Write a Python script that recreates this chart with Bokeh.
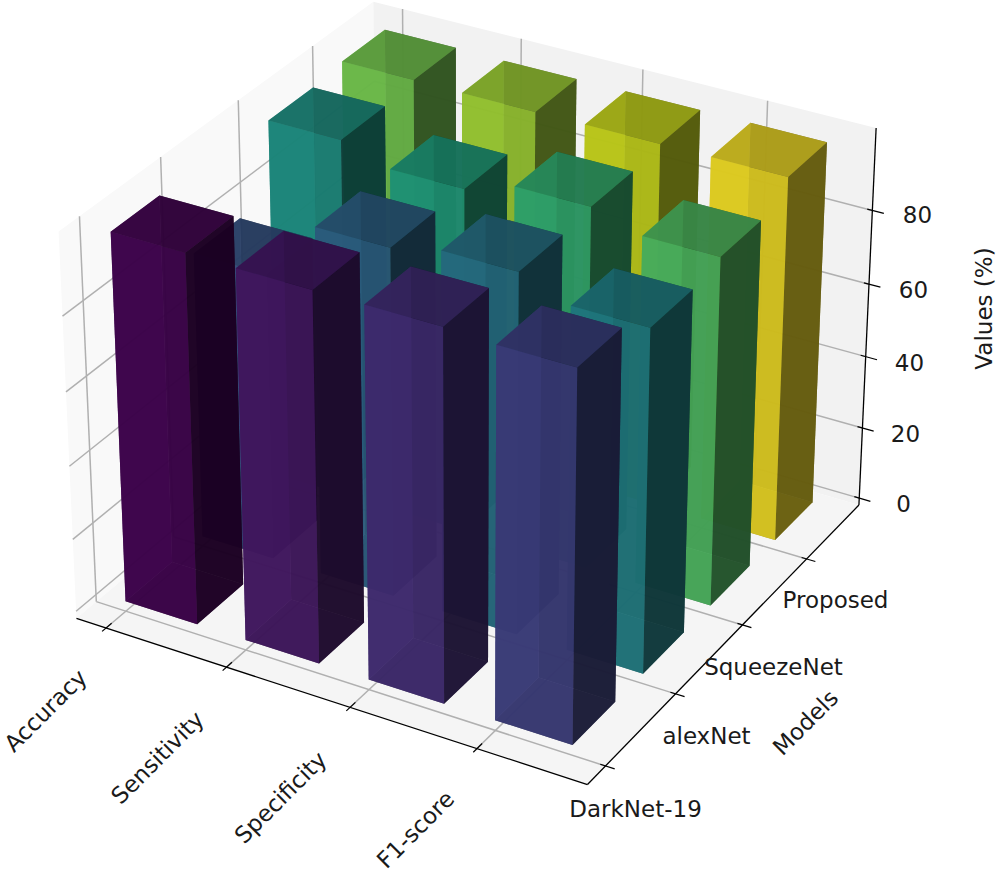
import numpy as np
from bokeh.plotting import figure
from bokeh.models import Range1d
from bokeh.core.properties import value
from bokeh.embed import file_html
from bokeh.resources import INLINE
from bokeh.palettes import Viridis256

metrics = ["Accuracy", "Sensitivity", "Specificity", "F1-score"]
models = ["DarkNet-19", "alexNet", "SqueezeNet", "Proposed"]
darknet = [99.6, 99.3, 99.3, 98.6]
alexnet = [78.0, 94.1, 97.0, 92.0]
squeezenet = [98.1, 93.8, 98.0, 94.0]
proposed = [99.3, 99.1, 99.2, 99.2]
z_ticks = [0, 20, 40, 60, 80]
rows = [darknet, alexnet, squeezenet, proposed]

W, H = 998, 873
XLIM = (-0.25, 3.85)
YLIM = (-0.25, 3.85)
ZLIM = (-2.0, 102.0)
BAR = 0.6
X_SHIFT = -0.02
Y_SHIFT = 0.03

# camera calibration: 3D position -> picture pixel
a, b = XLIM
c, d = YLIM
e, f = ZLIM
cal = [
    (a, c, e, 76, 617), (b, c, e, 587, 783), (b, d, e, 859, 505), (b, d, f, 876, 128),
    (a, c, f, 58, 230), (a, d, f, 373, 0),
    (0, c, e, 105, 628), (1, c, e, 226, 668), (2, c, e, 348, 707), (3, c, e, 475, 748),
    (b, 0, e, 607, 765), (b, 1, e, 677, 694), (b, 2, e, 742, 624), (b, 3, e, 805, 559),
    (b, d, 0, 858, 498), (b, d, 20, 862, 428), (b, d, 40, 865, 356), (b, d, 60, 868, 283), (b, d, 80, 872, 208),
    (a, 0, e, 97, 600), (a, 0, f, 79, 217), (a, 1, f, 160, 157), (a, 2, f, 237, 100), (a, 3, f, 312, 46),
    (0, d, f, 403, 8), (1, d, f, 521, 39), (2, d, f, 643, 69), (3, d, f, 766, 101),
]
cal = np.array(cal, float)
scale3 = np.array([4.1, 4.1, 104.0])


def hom(xyz):
    xyz = np.asarray(xyz, float) / scale3
    return np.c_[xyz, np.ones(len(xyz))]


X = hom(cal[:, :3])
A = []
for Xi, u, v in zip(X, cal[:, 3] / 500, cal[:, 4] / 500):
    A.append(np.r_[Xi, 0 * Xi, -u * Xi])
    A.append(np.r_[0 * Xi, Xi, -v * Xi])
P = np.linalg.svd(np.array(A))[2][-1].reshape(3, 4)
if (P[2] @ np.array([0.5, 0.5, 0.5, 1.0])) < 0:
    P = -P


def proj(xyz):
    h = hom(xyz) @ P.T
    return h[:, 0] / h[:, 2] * 500, H - h[:, 1] / h[:, 2] * 500, 1 / h[:, 2]


p = figure(width=W, height=H, x_range=Range1d(0, W), y_range=Range1d(0, H), toolbar_location=None,
           output_backend="svg", min_border=0, outline_line_color=None,
           background_fill_color="white", border_fill_color="white")
p.axis.visible = False
p.grid.visible = False


def poly(pts, color, alpha=1.0):
    u, v, _ = proj(pts)
    p.patch(u, v, fill_color=color, fill_alpha=alpha, line_color=None)


def seg(p0, p1, color, width):
    u, v, _ = proj([p0, p1])
    p.line(u, v, line_color=color, line_width=width)


# panes
poly([(a, c, e), (a, d, e), (a, d, f), (a, c, f)], "#f9f9f9")
poly([(a, d, e), (b, d, e), (b, d, f), (a, d, f)], "#f2f2f2")
poly([(a, c, e), (b, c, e), (b, d, e), (a, d, e)], "#f5f5f5")

# grid
GRID = "#b0b0b0"
GW = 1.5
for i in range(4):
    seg((i, c, e), (i, d, e), GRID, GW)
    seg((i, d, e), (i, d, f), GRID, GW)
    seg((b, i, e), (a, i, e), GRID, GW)
    seg((a, i, e), (a, i, f), GRID, GW)
for z in z_ticks:
    seg((a, c, z), (a, d, z), GRID, GW)
    seg((a, d, z), (b, d, z), GRID, GW)

# bars
SHADE = {"front": 0.87, "left": 0.87, "top": 0.72, "bottom": 0.53, "right": 0.40, "back": 0.40}
faces = []
for j, row in enumerate(rows):
    for i, val in enumerate(row):
        n = j * 4 + i
        rgb = np.array([int(Viridis256[int(round(n * 255 / 15))][k:k + 2], 16) for k in (1, 3, 5)], float)
        x0, x1, y0, y1 = i + X_SHIFT, i + X_SHIFT + BAR, j + Y_SHIFT, j + Y_SHIFT + BAR
        quads = {
            "bottom": [(x0, y0, 0), (x1, y0, 0), (x1, y1, 0), (x0, y1, 0)],
            "top": [(x0, y0, val), (x1, y0, val), (x1, y1, val), (x0, y1, val)],
            "front": [(x0, y0, 0), (x1, y0, 0), (x1, y0, val), (x0, y0, val)],
            "back": [(x0, y1, 0), (x1, y1, 0), (x1, y1, val), (x0, y1, val)],
            "left": [(x0, y0, 0), (x0, y1, 0), (x0, y1, val), (x0, y0, val)],
            "right": [(x1, y0, 0), (x1, y1, 0), (x1, y1, val), (x1, y0, val)],
        }
        for name, q in quads.items():
            u, v, iw = proj(q)
            col = "#%02x%02x%02x" % tuple(int(round(t)) for t in rgb * SHADE[name])
            faces.append((iw.mean(), list(u), list(v), col))
faces.sort(key=lambda t: t[0])
p.patches([t[1] for t in faces], [t[2] for t in faces], fill_color=[t[3] for t in faces], fill_alpha=0.85,
          line_color=None)

# axes
AX = "#000000"
seg((a, c, e), (b, c, e), AX, 1.3)
seg((b, c, e), (b, d, e), AX, 1.3)
seg((b, d, e), (b, d, f), AX, 1.3)
for i in range(4):
    seg((i, c - 0.05, e), (i, c + 0.07, e), AX, 1.2)
    seg((b - 0.04, i, e), (b + 0.07, i, e), AX, 1.2)
for z in z_ticks:
    seg((b - 0.04, d, z), (b + 0.09, d, z), AX, 1.2)


def label(txt, px, py, angle=0.0, size="23px"):
    p.text([px], [H - py], text=[txt], angle=[angle], angle_units="deg", text_align="center",
           text_baseline="middle", text_font=value("DejaVu Sans"), text_font_size=size, text_color="#1a1a1a")


for t, (px, py) in zip(metrics, [(45, 710), (157, 757), (280, 797), (415, 829)]):
    label(t, px, py, 45)
for t, (px, py) in zip(models, [(635, 808), (706, 735), (773, 666), (835, 599)]):
    label(t, px, py)
for t, (px, py) in zip(z_ticks, [(903, 503), (905, 433), (909, 362), (913, 289), (917, 214)]):
    label(str(t), px, py)
label("Models", 805, 722, 45)
label("Values (%)", 983, 308, 90)

open("out.html", "w").write(file_html(p, INLINE))
